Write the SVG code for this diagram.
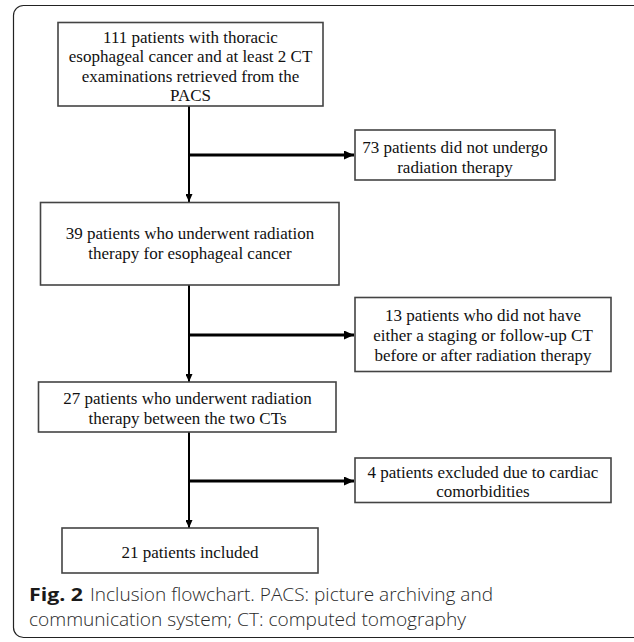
<svg xmlns="http://www.w3.org/2000/svg" width="634" height="642" viewBox="0 0 634 642">
  <defs>
    <marker id="ah" viewBox="0 0 10 10" refX="10" refY="5" markerWidth="10" markerHeight="9" markerUnits="userSpaceOnUse" orient="auto" preserveAspectRatio="none">
      <path d="M0,0 L10,5 L0,10 Z" fill="#000"/>
    </marker>
    <marker id="ahs" viewBox="0 0 10 10" refX="10" refY="5" markerWidth="8" markerHeight="7" markerUnits="userSpaceOnUse" orient="auto" preserveAspectRatio="none">
      <path d="M0,0 L10,5 L0,10 Z" fill="#000"/>
    </marker>
    <style>
      .box { fill: #fff; stroke: #444; stroke-width: 1.6; }
      .t { font-family: "Liberation Serif", "Times New Roman", serif; font-size: 17px; fill: #111; text-anchor: middle; }
      .v { stroke: #000; stroke-width: 2; fill: none; }
      .h { stroke: #000; stroke-width: 3; fill: none; }
      .cap { font-family: "Open Sans", "Noto Sans", sans-serif; font-size: 18px; fill: #2a2a2a; font-weight: 300; }
      .capb { font-family: "Open Sans", "Noto Sans", sans-serif; font-size: 18px; fill: #1a1a1a; font-weight: 700; }
    </style>
  </defs>
  <rect x="0" y="0" width="634" height="642" fill="#fff"/>
  <rect x="13.5" y="5.5" width="660" height="632" rx="10" ry="10" fill="none" stroke="#222" stroke-width="1.2"/>

  <g id="connectors">
    <line class="v" x1="189" y1="106" x2="189" y2="202" marker-end="url(#ahs)"/>
    <line class="h" x1="189" y1="155" x2="354" y2="155" marker-end="url(#ah)"/>
    <line class="v" x1="189" y1="285" x2="189" y2="382" marker-end="url(#ahs)"/>
    <line class="h" x1="189" y1="335" x2="354" y2="335" marker-end="url(#ah)"/>
    <line class="v" x1="189" y1="432" x2="189" y2="528" marker-end="url(#ahs)"/>
    <line class="h" x1="189" y1="481" x2="354" y2="481" marker-end="url(#ah)"/>
  </g>

  <g id="n1">
    <rect class="box" x="58" y="22.5" width="265" height="83.5"/>
    <text class="t" x="190.5" y="42.5">111 patients with thoracic</text>
    <text class="t" x="190.5" y="62">esophageal cancer and at least 2 CT</text>
    <text class="t" x="190.5" y="81.5">examinations retrieved from the</text>
    <text class="t" x="190.5" y="101">PACS</text>
  </g>

  <g id="n2">
    <rect class="box" x="355" y="130" width="200" height="50"/>
    <text class="t" x="455" y="152.5">73 patients did not undergo</text>
    <text class="t" x="455" y="172.5">radiation therapy</text>
  </g>

  <g id="n3">
    <rect class="box" x="40.5" y="202.5" width="298.5" height="82.5"/>
    <text class="t" x="190" y="238.5">39 patients who underwent radiation</text>
    <text class="t" x="190" y="258.5">therapy for esophageal cancer</text>
  </g>

  <g id="n4">
    <rect class="box" x="355" y="297.5" width="256" height="74"/>
    <text class="t" x="483" y="320.5">13 patients who did not have</text>
    <text class="t" x="483" y="340.5">either a staging or follow-up CT</text>
    <text class="t" x="483" y="360.5">before or after radiation therapy</text>
  </g>

  <g id="n5">
    <rect class="box" x="38.5" y="382" width="297.5" height="50"/>
    <text class="t" x="187.5" y="403.5">27 patients who underwent radiation</text>
    <text class="t" x="187.5" y="423.5">therapy between the two CTs</text>
  </g>

  <g id="n6">
    <rect class="box" x="355" y="458" width="256" height="44.5"/>
    <text class="t" x="483" y="477.5">4 patients excluded due to cardiac</text>
    <text class="t" x="483" y="496.5">comorbidities</text>
  </g>

  <g id="n7">
    <rect class="box" x="62" y="528" width="256" height="45"/>
    <text class="t" x="190" y="557.5">21 patients included</text>
  </g>

  <g id="caption">
    <text class="capb" x="29" y="601" textLength="54" lengthAdjust="spacingAndGlyphs">Fig. 2</text>
    <text class="cap" x="90" y="601" textLength="403" lengthAdjust="spacingAndGlyphs">Inclusion flowchart. PACS: picture archiving and</text>
    <text class="cap" x="29" y="626" textLength="437" lengthAdjust="spacingAndGlyphs">communication system; CT: computed tomography</text>
  </g>
</svg>
